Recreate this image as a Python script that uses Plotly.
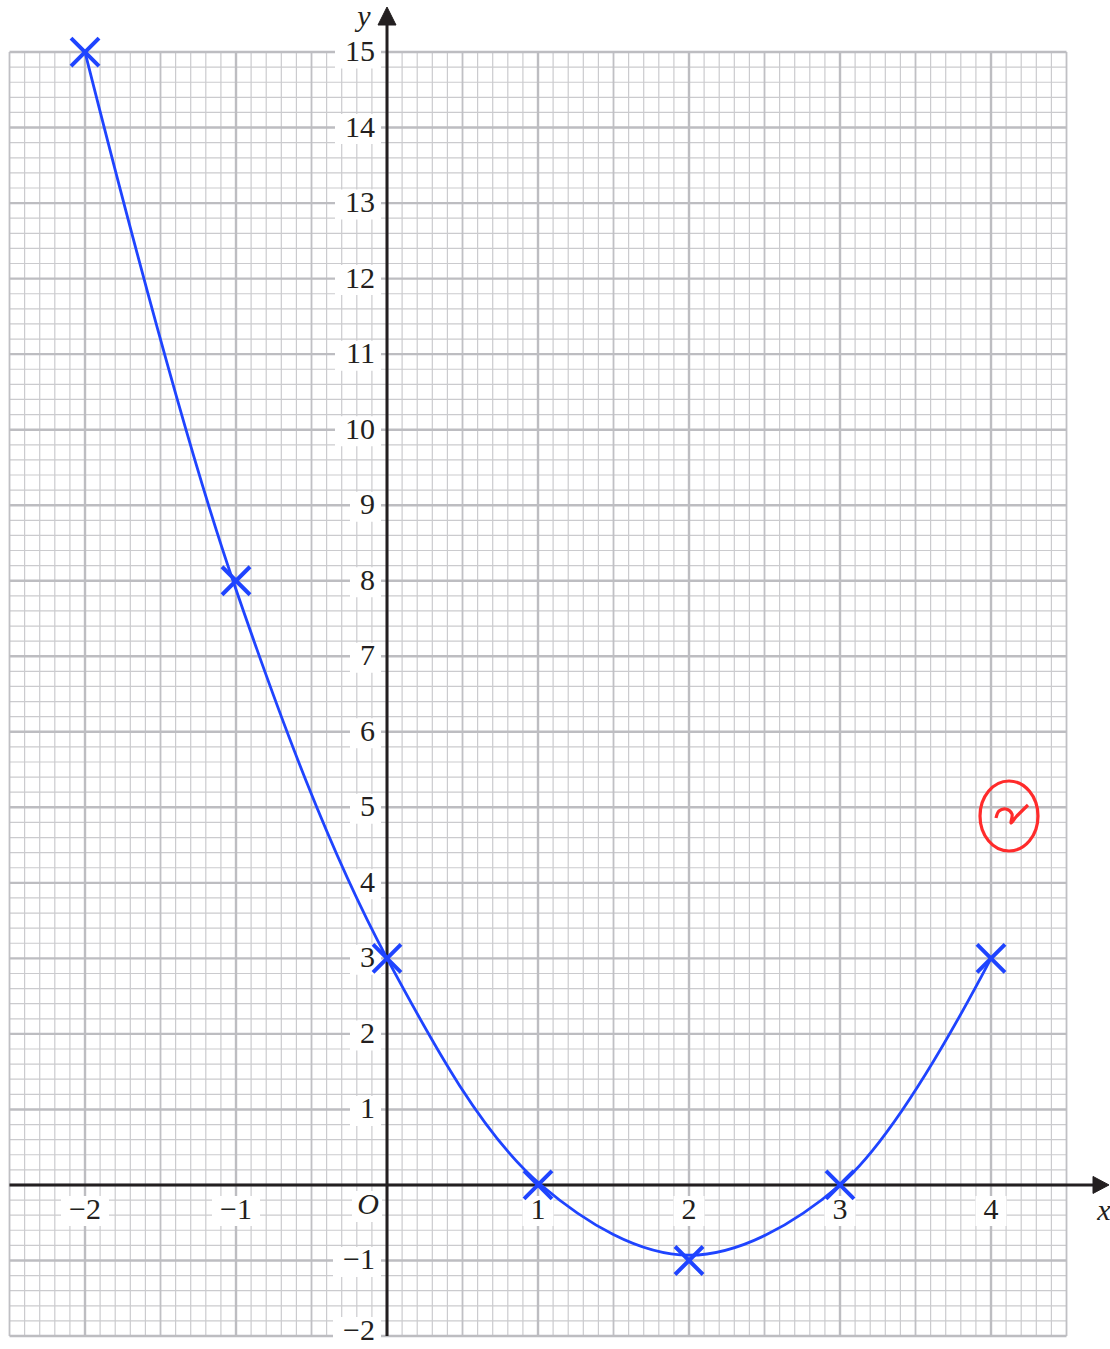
import numpy as np
import plotly.graph_objects as go

# ---- data ----
point_x = [-2, -1, 0, 1, 2, 3, 4]
point_y = [15, 8, 3, 0, -1, 0, 3]
curve_x = [-2, -1.02, 0, 1.02, 2, 3, 4]
curve_y = [15, 8, 3, 0, -0.93, 0, 3]

x_ticks = [-2, -1, 1, 2, 3, 4]
x_tick_labels = ["\u22122", "\u22121", "1", "2", "3", "4"]
y_ticks = list(range(-2, 16))
y_tick_labels = [("\u2212" + str(-v)) if v < 0 else str(v) for v in y_ticks]
y_ticks = [v for v in y_ticks if v != 0]
y_tick_labels = [t for t in y_tick_labels if t != "0"]

# ---- geometry ----
W, H = 1110, 1349
XR = [-2.563, 4.788]
YR = [-2.172, 15.689]
GX = [-2.5, 4.5]
GY = [-2.0, 15.0]
sx = (XR[1] - XR[0]) / W   # data units per px
sy = (YR[1] - YR[0]) / H

def px2x(px):
    return XR[0] + px * sx

def py2y(py):
    return YR[1] - py * sy

BLUE = "#1f44ff"
BLACK = "#231f20"
SERIF = "Liberation Serif, Times New Roman, serif"
FS = 30

fig = go.Figure()

def lines_trace(segs, color, width):
    xs, ys = [], []
    for (x0, y0, x1, y1) in segs:
        xs += [x0, x1, None]
        ys += [y0, y1, None]
    return go.Scatter(x=xs, y=ys, mode="lines", line=dict(color=color, width=width),
                      hoverinfo="skip", showlegend=False)

# grid
xv = np.round(np.arange(GX[0], GX[1] + 1e-9, 0.1), 3)
yv = np.round(np.arange(GY[0], GY[1] + 1e-9, 0.2), 3)
minor, half, major = [], [], []
for v in xv:
    seg = (v, GY[0], v, GY[1])
    if abs(v - round(v)) < 1e-6:
        major.append(seg)
    elif abs(v * 2 - round(v * 2)) < 1e-6:
        half.append(seg)
    else:
        minor.append(seg)
for v in yv:
    seg = (GX[0], v, GX[1], v)
    if abs(v - round(v)) < 1e-6:
        major.append(seg)
    else:
        minor.append(seg)
fig.add_trace(lines_trace(minor, "#cbcbce", 1.2))
fig.add_trace(lines_trace(half, "#c0c0c4", 1.8))
fig.add_trace(lines_trace(major, "#bdbdc1", 2.4))

# white boxes behind labels
def box(cx0, cx1, cy0, cy1):
    return [cx0, cx1, cx1, cx0, cx0, None], [cy0, cy0, cy1, cy1, cy0, None]

bx, by = [], []
def char_w(t):
    return sum(17 if c == "\u2212" else 15 for c in t)

# downward pixel nudge for y labels (bottom one lifted so it stays inside the page)
y_down = [(-4 if v == -2 else 1.5) for v in y_ticks]
y_lab_pos = [v - d * sy for v, d in zip(y_ticks, y_down)]

for c, t in zip(y_lab_pos, y_tick_labels):
    w = char_w(t)
    x1 = px2x(381)
    x0 = x1 - (w + 16) * sx
    a, b = box(x0, x1, c - 15 * sy, c + 15 * sy)
    bx += a; by += b
XLAB_Y = 1211
for v, t in zip(x_ticks, x_tick_labels):
    w = char_w(t) + 16
    cyl = py2y(XLAB_Y)
    a, b = box(v - w / 2 * sx, v + w / 2 * sx, cyl - 15 * sy, cyl + 15 * sy)
    bx += a; by += b
# box behind O
a, b = box(px2x(352), px2x(382), py2y(1191), py2y(1222))
bx += a; by += b
fig.add_trace(go.Scatter(x=bx, y=by, mode="lines", fill="toself", fillcolor="white",
                         line=dict(width=0, color="white"), hoverinfo="skip", showlegend=False))

# axes
ytip, ybase = py2y(7), py2y(25)
xtip, xbase = px2x(1109), px2x(1093)
fig.add_trace(lines_trace([(0, GY[0], 0, ybase + 2 * sy), (GX[0], 0, xbase + 2 * sx, 0)], BLACK, 3))
fig.add_trace(go.Scatter(
    x=[-9 * sx, 9 * sx, 0, -9 * sx, None, xbase, xtip, xbase, xbase],
    y=[ybase, ybase, ytip, ybase, None, -8.5 * sy, 0, 8.5 * sy, -8.5 * sy],
    mode="lines", fill="toself", fillcolor=BLACK, line=dict(color=BLACK, width=1),
    hoverinfo="skip", showlegend=False))

# tick labels
fig.add_trace(go.Scatter(x=[px2x(375)] * len(y_ticks), y=y_lab_pos,
                         mode="text", text=y_tick_labels, textposition="middle left",
                         textfont=dict(family=SERIF, size=FS, color=BLACK),
                         hoverinfo="skip", showlegend=False))
fig.add_trace(go.Scatter(x=x_ticks, y=[py2y(XLAB_Y)] * len(x_ticks), mode="text", text=x_tick_labels,
                         textposition="middle center", textfont=dict(family=SERIF, size=FS, color=BLACK),
                         hoverinfo="skip", showlegend=False))
fig.add_trace(go.Scatter(x=[px2x(368), px2x(364), px2x(1104)], y=[py2y(1206), py2y(18), py2y(1212)],
                         mode="text", text=["<i>O</i>", "<i>y</i>", "<i>x</i>"],
                         textposition="middle center", textfont=dict(family=SERIF, size=FS, color=BLACK),
                         hoverinfo="skip", showlegend=False))

# curve and crosses
fig.add_trace(go.Scatter(x=curve_x, y=curve_y, mode="lines",
                         line=dict(color=BLUE, width=2.8, shape="spline", smoothing=1.0),
                         hoverinfo="skip", showlegend=False))
fig.add_trace(go.Scatter(x=point_x, y=point_y, mode="markers",
                         marker=dict(symbol="x-thin", size=28, color=BLUE, opacity=1,
                                     line=dict(color=BLUE, width=4)),
                         hoverinfo="skip", showlegend=False))

# red teacher mark (circled tick)
RED = "#ff2b2b"
mark_px = [(996, 818), (999, 811), (1006, 809), (1012, 814), (1011, 823), (1016, 817), (1028, 805)]
fig.add_trace(go.Scatter(x=[px2x(p[0]) for p in mark_px], y=[py2y(p[1]) for p in mark_px],
                         mode="lines", line=dict(color=RED, width=3.2, shape="spline"),
                         hoverinfo="skip", showlegend=False))
fig.add_shape(type="circle", xref="x", yref="y",
              x0=px2x(980), x1=px2x(1038), y0=py2y(851), y1=py2y(781),
              line=dict(color=RED, width=3.2))

fig.update_layout(
    width=W, height=H, margin=dict(l=0, r=0, t=0, b=0),
    paper_bgcolor="white", plot_bgcolor="white",
    xaxis=dict(range=XR, visible=False, fixedrange=True),
    yaxis=dict(range=YR, visible=False, fixedrange=True),
    showlegend=False,
)

fig.write_html("out.html", config={"displayModeBar": False},
               post_script="document.body.style.margin='0';document.body.style.overflow='hidden';")
